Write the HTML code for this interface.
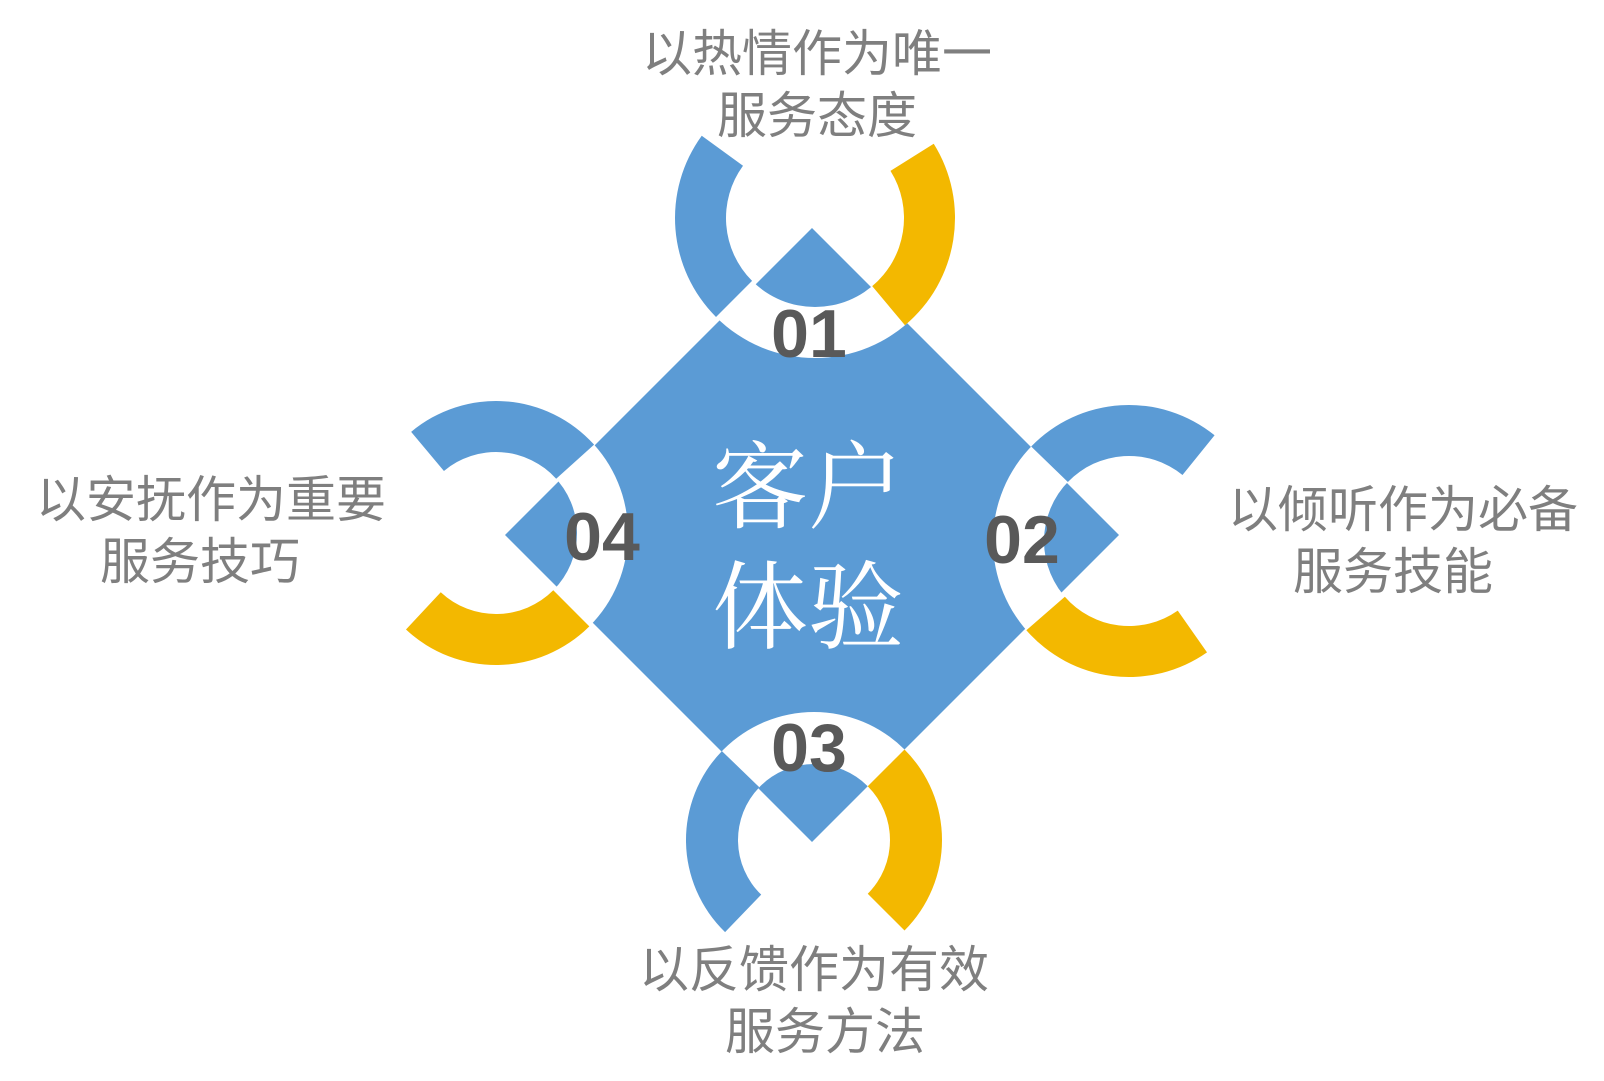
<!DOCTYPE html>
<html><head><meta charset="utf-8">
<style>
html,body{margin:0;padding:0;background:#fff;}
svg{display:block;}
.lbl{font-family:"Liberation Sans","Noto Sans CJK SC",sans-serif;font-size:50px;fill:#7f7f7f;}
.num{font-family:"Liberation Sans",sans-serif;font-weight:bold;font-size:68px;fill:#595959;}
.ctr{font-family:"Liberation Serif","Noto Serif CJK SC",serif;font-size:96px;fill:#fff;}
</style></head>
<body>
<svg id="s" width="1604" height="1081" viewBox="0 0 1604 1081" xmlns="http://www.w3.org/2000/svg">
<defs>
<clipPath id="c1"><circle cx="815" cy="218" r="89"/></clipPath>
<clipPath id="c2"><circle cx="1129" cy="541" r="85"/></clipPath>
<clipPath id="c3"><circle cx="814" cy="840" r="76"/></clipPath>
<clipPath id="c4"><circle cx="496" cy="533" r="81"/></clipPath>
</defs>
<polygon points="812,228 1119,535 812,842 505,535" fill="#5B9BD5"/>
<g id="rings"></g>
<text class="ctr" x="808" y="521" text-anchor="middle">客户</text>
<text class="ctr" x="808" y="641" text-anchor="middle">体验</text>
<text class="num" x="809" y="357" text-anchor="middle">01</text>
<text class="num" x="1022" y="563" text-anchor="middle">02</text>
<text class="num" x="809" y="771" text-anchor="middle">03</text>
<text class="num" x="602" y="560" text-anchor="middle">04</text>
<text class="lbl" x="817" y="71" text-anchor="middle">以热情作为唯一</text>
<text class="lbl" x="817" y="133" text-anchor="middle">服务态度</text>
<text class="lbl" x="1403" y="527" text-anchor="middle">以倾听作为必备</text>
<text class="lbl" x="1393" y="589" text-anchor="middle">服务技能</text>
<text class="lbl" x="814" y="987" text-anchor="middle">以反馈作为有效</text>
<text class="lbl" x="825" y="1049" text-anchor="middle">服务方法</text>
<text class="lbl" x="211" y="517" text-anchor="middle">以安抚作为重要</text>
<text class="lbl" x="200" y="579" text-anchor="middle">服务技巧</text>
</svg>
<script>
var NS="http://www.w3.org/2000/svg";
var g=document.getElementById("rings");
var rings=[
 {cx:815,cy:218,R:140,r:89,c:"c1",b:[135,216],y:[-32,50]},
 {cx:1129,cy:541,R:136,r:85,c:"c2",b:[224,309],y:[55,139]},
 {cx:814,cy:840,R:128,r:76,c:"c3",b:[134,224],y:[-45,45]},
 {cx:496,cy:533,R:132,r:81,c:"c4",b:[230,318],y:[45,133]}
];
function pt(cx,cy,r,a){a=a*Math.PI/180;return (cx+r*Math.cos(a)).toFixed(2)+","+(cy+r*Math.sin(a)).toFixed(2);}
function arc(o,a0,a1,col){
 var large=(a1-a0)>180?1:0;
 var d="M"+pt(o.cx,o.cy,o.R,a0)+" A"+o.R+","+o.R+" 0 "+large+" 1 "+pt(o.cx,o.cy,o.R,a1)+
 " L"+pt(o.cx,o.cy,o.r,a1)+" A"+o.r+","+o.r+" 0 "+large+" 0 "+pt(o.cx,o.cy,o.r,a0)+" Z";
 var p=document.createElementNS(NS,"path");p.setAttribute("d",d);p.setAttribute("fill",col);g.appendChild(p);
}
rings.forEach(function(o){
 var c=document.createElementNS(NS,"circle");
 c.setAttribute("cx",o.cx);c.setAttribute("cy",o.cy);c.setAttribute("r",o.R);c.setAttribute("fill","#fff");g.appendChild(c);
 var d=document.createElementNS(NS,"polygon");
 d.setAttribute("points","812,228 1119,535 812,842 505,535");d.setAttribute("fill","#5B9BD5");
 d.setAttribute("clip-path","url(#"+o.c+")");g.appendChild(d);
 arc(o,o.b[0],o.b[1],"#5B9BD5");
 arc(o,o.y[0],o.y[1],"#F3B800");
});
</script>
</body></html>
